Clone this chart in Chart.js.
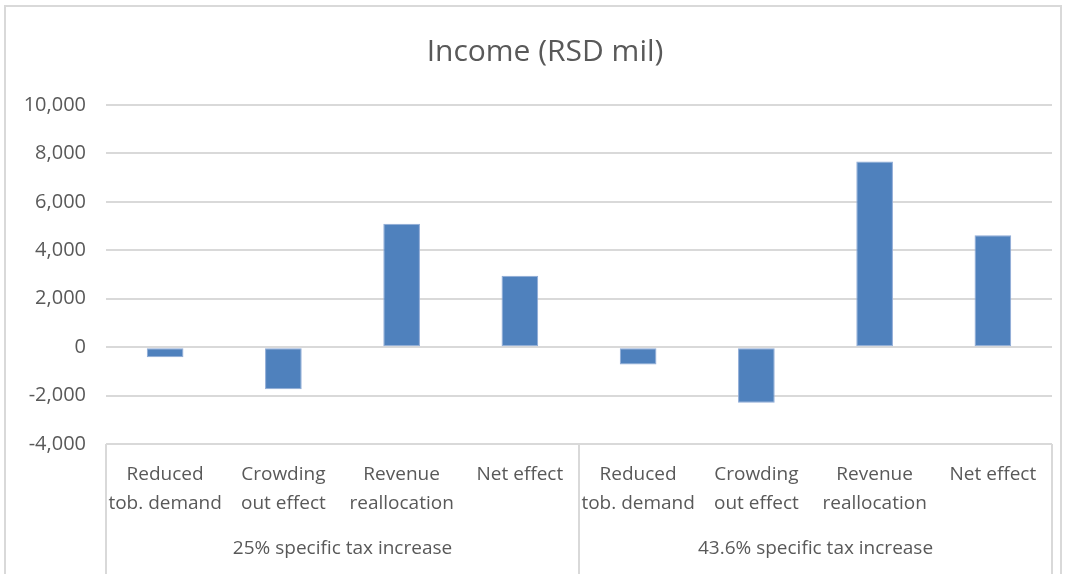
<!DOCTYPE html>
<html>
<head>
<meta charset="utf-8">
<script src="https://cdn.jsdelivr.net/npm/chart.js@4"></script>
<style>
  body { margin: 0; background: #fff; }
  #wrap { position: absolute; left: 4px; top: 5px; width: 1058px; height: 569px; border: 2px solid #d9d9d9; border-bottom: none; box-sizing: border-box; }
  canvas { position: absolute; left: -6px; top: -7px; }
</style>
</head>
<body>
<div id="wrap"><canvas id="grafico" width="1068" height="574"></canvas></div>
<script>
// categorias e valores
const categorias = [
  ['Reduced', 'tob. demand'], ['Crowding', 'out effect'], ['Revenue', 'reallocation'], ['Net effect'],
  ['Reduced', 'tob. demand'], ['Crowding', 'out effect'], ['Revenue', 'reallocation'], ['Net effect']
];
const grupos = ['25% specific tax increase', '43.6% specific tax increase'];
const valores = [-420, -1740, 5100, 2950, -720, -2300, 7670, 4620];
const yTicks = [-4000, -2000, 0, 2000, 4000, 6000, 8000, 10000];
const titulo = 'Income (RSD mil)';

const cinza = '#595959';
const fonte = "'Open Sans', sans-serif";

// titulo + segunda linha do eixo x (grupos + separadores)
const gruposPlugin = {
  id: 'grupos',
  afterDraw(chart) {
    const ctx = chart.ctx;
    const x = chart.scales.x;
    const area = chart.chartArea;
    const meio = (x.getPixelForValue(3) + x.getPixelForValue(4)) / 2;
    ctx.save();
    ctx.strokeStyle = '#d9d9d9';
    ctx.lineWidth = 2;
    [area.left, meio, area.right].forEach(px => {
      ctx.beginPath();
      ctx.moveTo(px, area.bottom);
      ctx.lineTo(px, chart.height);
      ctx.stroke();
    });
    ctx.fillStyle = cinza;
    ctx.textAlign = 'center';
    ctx.textBaseline = 'middle';
    ctx.font = '19px ' + fonte;
    ctx.fillText(grupos[0], (area.left + meio) / 2, 549);
    ctx.fillText(grupos[1], (meio + area.right) / 2, 549);
    ctx.font = '30px ' + fonte;
    ctx.fillText(titulo, 545, 52);
    ctx.restore();
  }
};

const ctx = document.getElementById('grafico').getContext('2d');
const meuGrafico = new Chart(ctx, {
  type: 'bar',
  data: {
    labels: categorias,
    datasets: [{
      data: valores,
      backgroundColor: '#4f81bd',
      borderColor: '#8eaad6',
      borderWidth: 1,
      borderSkipped: false,
      barPercentage: 0.31,
      categoryPercentage: 1
    }]
  },
  options: {
    responsive: false,
    animation: false,
    layout: { padding: { left: 0, right: 16, top: 105, bottom: 0 } },
    plugins: {
      legend: { display: false },
      tooltip: { enabled: false },
      title: { display: false }
    },
    scales: {
      x: {
        grid: { display: false },
        border: { display: false },
        ticks: {
          color: cinza,
          font: { family: fonte, size: 19, lineHeight: 1.53 },
          maxRotation: 0,
          autoSkip: false,
          padding: 8
        },
        afterFit(scale) { scale.height = 130; }
      },
      y: {
        min: -4000,
        max: 10000,
        afterBuildTicks(scale) { scale.ticks = yTicks.map(v => ({ value: v })); },
        grid: { color: '#d9d9d9', lineWidth: 2, drawTicks: false },
        border: { display: false },
        ticks: {
          color: cinza,
          font: { family: fonte, size: 20 },
          padding: 20
        },
        afterFit(scale) { scale.width = 106; }
      }
    }
  },
  plugins: [gruposPlugin]
});
</script>
</body>
</html>
